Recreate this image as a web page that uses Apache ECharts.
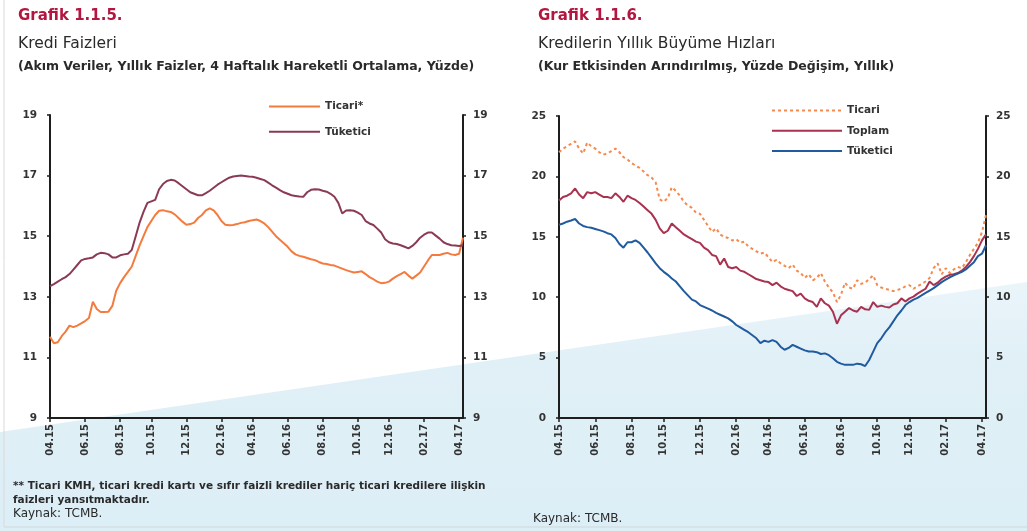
<!DOCTYPE html>
<html>
<head>
<meta charset="utf-8">
<script src="https://cdn.jsdelivr.net/npm/echarts@6/dist/echarts.min.js"></script>
<style>
  html, body { margin: 0; padding: 0; background: #fff; }
  #chart { width: 1027px; height: 531px; }
</style>
</head>
<body>
<div id="chart"></div>
<script>
// haftalik veri, ilk hafta 03.04.2015
var faizTicari = [
  11.68, 11.47, 11.5, 11.7, 11.85, 12.05, 12.0, 12.05, 12.12, 12.2,
  12.3, 12.84, 12.6, 12.5, 12.5, 12.51, 12.7, 13.2, 13.45, 13.65,
  13.82, 14.0, 14.35, 14.7, 15.0, 15.3, 15.5, 15.7, 15.84, 15.86,
  15.82, 15.8, 15.72, 15.6, 15.48, 15.38, 15.4, 15.45, 15.6, 15.7,
  15.85, 15.92, 15.85, 15.7, 15.5, 15.38, 15.36, 15.37, 15.4, 15.44,
  15.46, 15.5, 15.53, 15.55, 15.5, 15.42, 15.3, 15.15, 15.0, 14.88,
  14.77, 14.65, 14.5, 14.4, 14.35, 14.32, 14.28, 14.24, 14.21, 14.15,
  14.1, 14.08, 14.05, 14.03, 13.98, 13.93, 13.88, 13.84, 13.8, 13.82,
  13.84, 13.75, 13.65, 13.58, 13.5, 13.45, 13.46, 13.5, 13.6, 13.68,
  13.75, 13.82, 13.7, 13.6, 13.7, 13.8, 14.0, 14.2, 14.38, 14.38,
  14.38, 14.42, 14.45, 14.4, 14.38, 14.42, 14.95
];
var faizTuketici = [
  13.35, 13.42, 13.5, 13.58, 13.65, 13.75, 13.9, 14.05, 14.2, 14.25,
  14.27, 14.3, 14.4, 14.45, 14.44, 14.4, 14.3, 14.3, 14.37, 14.4,
  14.42, 14.55, 15.0, 15.45, 15.8, 16.1, 16.15, 16.2, 16.55, 16.72,
  16.82, 16.86, 16.84, 16.75, 16.65, 16.55, 16.45, 16.4, 16.35, 16.35,
  16.42, 16.5, 16.6, 16.7, 16.78, 16.86, 16.93, 16.97, 16.99, 17.0,
  16.99, 16.97, 16.96, 16.93, 16.89, 16.85, 16.77, 16.68, 16.6, 16.52,
  16.45, 16.4, 16.35, 16.33, 16.31, 16.3, 16.45, 16.53, 16.55, 16.54,
  16.5, 16.47, 16.4, 16.3, 16.1, 15.75, 15.85, 15.86, 15.84, 15.78,
  15.7, 15.5, 15.42, 15.37, 15.25, 15.12, 14.9, 14.8, 14.76, 14.74,
  14.7, 14.65, 14.6, 14.68, 14.8, 14.95, 15.05, 15.12, 15.12, 15.02,
  14.92, 14.8, 14.74, 14.7, 14.69, 14.68, 14.7
];
var buyumeTicari = [
  22.0, 22.3, 22.5, 22.7, 22.9, 22.3, 21.9, 22.8, 22.5, 22.3,
  22.0, 21.8, 21.9, 22.1, 22.3, 22.0, 21.6, 21.4, 21.1, 20.9,
  20.7, 20.4, 20.1, 19.9, 19.5, 18.1, 17.9, 18.2, 19.1, 18.8,
  18.4, 17.9, 17.6, 17.4, 17.0, 16.9, 16.4, 15.9, 15.4, 15.7,
  15.2, 15.0, 14.9, 14.7, 14.8, 14.5, 14.6, 14.2, 14.0, 13.8,
  13.6, 13.7, 13.3, 12.9, 13.1, 12.8, 12.6, 12.4, 12.7, 12.2,
  12.0, 11.6, 11.9, 11.4, 11.6, 12.0, 11.3, 10.8, 10.4, 9.6,
  10.2, 11.2, 10.8, 10.7, 11.4, 11.1, 11.2, 11.5, 11.8, 11.0,
  10.8, 10.7, 10.6, 10.5, 10.6, 10.7, 10.9, 11.0, 10.7, 10.9,
  11.1, 11.3, 11.6, 12.4, 12.8, 11.9, 12.4, 12.0, 12.3, 12.5,
  12.4, 12.9, 13.5, 14.0, 14.5, 15.4, 16.8
];
var buyumeToplam = [
  18.0, 18.3, 18.4, 18.6, 19.0, 18.5, 18.2, 18.7, 18.6, 18.7,
  18.5, 18.3, 18.3, 18.2, 18.6, 18.3, 17.9, 18.4, 18.2, 18.05,
  17.8, 17.5, 17.2, 16.9, 16.4, 15.7, 15.3, 15.5, 16.1, 15.8,
  15.5, 15.2, 15.0, 14.8, 14.6, 14.5, 14.1, 13.9, 13.5, 13.4,
  12.7, 13.2, 12.5, 12.4, 12.5, 12.2, 12.1, 11.9, 11.7, 11.5,
  11.4, 11.3, 11.25, 11.0, 11.2, 10.9, 10.7, 10.6, 10.5, 10.1,
  10.3, 9.9, 9.7, 9.6, 9.2, 9.9, 9.5, 9.3, 8.8, 7.8,
  8.5, 8.8, 9.1, 8.9, 8.8, 9.2, 9.0, 8.95, 9.6, 9.2,
  9.3, 9.2, 9.15, 9.4, 9.5, 9.9, 9.65, 9.9, 10.05, 10.3,
  10.5, 10.7, 11.3, 11.0, 11.2, 11.5, 11.7, 11.85, 11.9, 12.0,
  12.2, 12.5, 12.9, 13.4, 14.0, 14.7, 15.2
];
var buyumeTuketici = [
  16.0, 16.1, 16.25, 16.35, 16.47, 16.1, 15.9, 15.8, 15.75, 15.65,
  15.55, 15.45, 15.3, 15.2, 14.9, 14.4, 14.1, 14.55, 14.55, 14.7,
  14.5, 14.1, 13.7, 13.25, 12.8, 12.4, 12.1, 11.85, 11.55, 11.3,
  10.9, 10.5, 10.15, 9.8, 9.65, 9.35, 9.2, 9.05, 8.9, 8.7,
  8.55, 8.4, 8.25, 8.0, 7.7, 7.5, 7.3, 7.1, 6.85, 6.6,
  6.2, 6.4, 6.3, 6.45, 6.3, 5.9, 5.65, 5.8, 6.05, 5.9,
  5.75, 5.6, 5.5, 5.5, 5.45, 5.3, 5.35, 5.2, 4.95, 4.65,
  4.5, 4.4, 4.4, 4.4, 4.5, 4.45, 4.3, 4.8, 5.5, 6.2,
  6.6, 7.1, 7.5, 8.0, 8.5, 8.9, 9.35, 9.6, 9.8, 9.95,
  10.15, 10.35, 10.55, 10.75, 11.0, 11.25, 11.45, 11.65, 11.8, 11.95,
  12.1, 12.3, 12.6, 12.9, 13.4, 13.6, 14.3
];

// haftalar (cuma), 03.04.2015'ten itibaren
var weeks = [];
var firstWeek = Date.UTC(2015, 3, 3);
for (var i = 0; i < faizTicari.length; i++) {
  weeks.push(new Date(firstWeek + i * 7 * 86400000).toISOString().slice(0, 10));
}

// her cift ayin ilk haftasi etiketlenir: 04.15, 06.15 ...
function isTick(index, value) {
  var m = +value.slice(5, 7);
  var day = +value.slice(8, 10);
  return m % 2 === 0 && day <= 7;
}
function tickLabel(value) {
  return value.slice(5, 7) + '.' + value.slice(2, 4);
}

var FONT = 'DejaVu Sans';
var AXIS_COLOR = '#1e1e1e';

function xAxisFor(grid) {
  return {
    type: 'category',
    gridIndex: grid,
    data: weeks,
    boundaryGap: false,
    axisLine: { lineStyle: { color: AXIS_COLOR, width: 2 } },
    axisTick: { interval: isTick, length: 4, lineStyle: { color: AXIS_COLOR, width: 1.5 } },
    axisLabel: {
      interval: isTick, formatter: tickLabel, rotate: 90, margin: 6,
      fontSize: 10, fontWeight: 'bold', color: '#333', fontFamily: FONT
    },
    splitLine: { show: false }
  };
}

function yAxisFor(grid, pos, min, max, step, margin) {
  return {
    type: 'value',
    gridIndex: grid,
    position: pos,
    min: min,
    max: max,
    interval: step,
    axisLine: { show: true, lineStyle: { color: AXIS_COLOR, width: 2 } },
    axisTick: { show: true, length: 3, lineStyle: { color: AXIS_COLOR, width: 1.5 } },
    axisLabel: { margin: margin, fontSize: 10.5, fontWeight: 'bold', color: '#333', fontFamily: FONT },
    splitLine: { show: false }
  };
}

function line(name, data, xi, yi, color, type) {
  return {
    name: name,
    type: 'line',
    xAxisIndex: xi,
    yAxisIndex: yi,
    data: data,
    symbol: 'none',
    lineStyle: { color: color, width: 2, type: type || 'solid' },
    itemStyle: { color: color }
  };
}

function text(x, y, str, size, weight, color) {
  return {
    type: 'text', z: 100,
    style: {
      x: x, y: y, text: str, fill: color || '#2a2a2a',
      font: (weight || 'normal') + ' ' + size + 'px "' + FONT + '"',
      verticalAlign: 'middle'
    }
  };
}

var legendText = { fontSize: 10.5, fontWeight: 'bold', color: '#333', fontFamily: FONT };

var option = {
  animation: false,
  backgroundColor: '#fff',
  grid: [
    { left: 50, right: 564, top: 115, bottom: 113, outerBoundsMode: 'none' },
    { left: 559, right: 41, top: 116, bottom: 113, outerBoundsMode: 'none' }
  ],
  xAxis: [xAxisFor(0), xAxisFor(1)],
  yAxis: [
    yAxisFor(0, 'left', 9, 19, 2, 13),
    yAxisFor(0, 'right', 9, 19, 2, 10),
    yAxisFor(1, 'left', 0, 25, 5, 13),
    yAxisFor(1, 'right', 0, 25, 5, 10)
  ],
  legend: [
    {
      data: ['Ticari*', 'Tüketici'],
      orient: 'vertical', left: 263, top: 96,
      itemWidth: 51, itemHeight: 14, itemGap: 14,
      itemStyle: { opacity: 0 },   // cizgi ikonundaki daireyi gizle
      textStyle: legendText
    },
    {
      data: ['Ticari', 'Toplam', 'Tüketici (büyüme)'],
      orient: 'vertical', left: 766, top: 100,
      itemWidth: 70, itemHeight: 14, itemGap: 9,
      itemStyle: { opacity: 0 },
      formatter: function (name) { return name.replace(' (büyüme)', ''); },
      textStyle: legendText
    }
  ],
  series: [
    line('Ticari*', faizTicari, 0, 0, '#f47b3d'),
    line('Tüketici', faizTuketici, 0, 0, '#8a3a55'),
    line('Ticari', buyumeTicari, 1, 2, '#f58a4e', [3, 3]),
    line('Toplam', buyumeToplam, 1, 2, '#a8324f'),
    line('Tüketici (büyüme)', buyumeTuketici, 1, 2, '#1f5b9e')
  ],
  graphic: [
    // sayfanin alt kismindaki acik mavi serit
    {
      type: 'polygon', z: -10, silent: true,
      shape: { points: [[0, 432], [1027, 282], [1027, 531], [0, 531]] },
      style: {
        fill: new echarts.graphic.LinearGradient(0, 0, 0, 1, [
          { offset: 0, color: '#eaf5fa' },
          { offset: 0.3, color: '#e1f0f7' },
          { offset: 1, color: '#dceef6' }
        ])
      }
    },
    { type: 'line', z: -5, shape: { x1: 4, y1: 0, x2: 4, y2: 527 }, style: { stroke: '#d9d9d9', lineWidth: 1 } },
    { type: 'line', z: -5, shape: { x1: 4, y1: 527, x2: 1027, y2: 527 }, style: { stroke: '#cfd8dc', lineWidth: 1 } },

    text(18, 16, 'Grafik 1.1.5.', 15, 'bold', '#b3163f'),
    text(18, 44, 'Kredi Faizleri', 15.5),
    text(18, 67, '(Akım Veriler, Yıllık Faizler, 4 Haftalık Hareketli Ortalama, Yüzde)', 12.5, 'bold'),
    text(538, 16, 'Grafik 1.1.6.', 15, 'bold', '#b3163f'),
    text(538, 44, 'Kredilerin Yıllık Büyüme Hızları', 15.5),
    text(538, 67, '(Kur Etkisinden Arındırılmış, Yüzde Değişim, Yıllık)', 12.5, 'bold'),

    text(13, 486, '** Ticari KMH, ticari kredi kartı ve sıfır faizli krediler hariç ticari kredilere ilişkin', 10.5, 'bold'),
    text(13, 500, 'faizleri yansıtmaktadır.', 10.5, 'bold'),
    text(13, 514, 'Kaynak: TCMB.', 12),
    text(533, 519, 'Kaynak: TCMB.', 12)
  ]
};

var myChart = echarts.init(document.getElementById('chart'));
myChart.setOption(option);
</script>
</body>
</html>
